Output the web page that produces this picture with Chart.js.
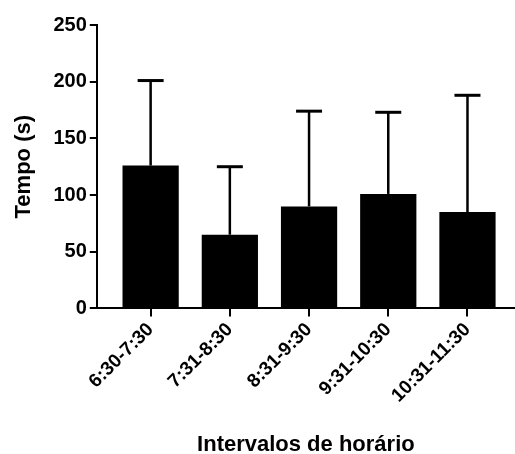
<!DOCTYPE html>
<html>
<head>
<meta charset="utf-8">
<script src="https://cdn.jsdelivr.net/npm/chart.js@4"></script>
<style>
  html, body { margin: 0; padding: 0; background: #fff; }
  #wrap { width: 515px; height: 454px; }
</style>
</head>
<body>
<div id="wrap"><canvas id="myChart"></canvas></div>
<script>
const intervals = ['6:30-7:30', '7:31-8:30', '8:31-9:30', '9:31-10:30', '10:31-11:30'];
const means = [126, 65, 90, 101, 85];
const upperErr = [201, 125, 174, 173, 188];
const yTicks = [0, 50, 100, 150, 200, 250];

const ctx = document.getElementById('myChart').getContext('2d');

// upper-only error bars, Prism style
const errorBars = {
  id: 'errorBars',
  afterDatasetsDraw(chart) {
    const x = chart.scales.x, y = chart.scales.y;
    const c = chart.ctx;
    c.save();
    c.strokeStyle = '#000';
    means.forEach((m, i) => {
      const px = x.getPixelForValue(i);
      const top = y.getPixelForValue(upperErr[i]);
      c.lineWidth = 2.5;
      c.beginPath();
      c.moveTo(px, y.getPixelForValue(m));
      c.lineTo(px, top);
      c.stroke();
      c.lineWidth = 3;
      c.beginPath();
      c.moveTo(px - 13, top);
      c.lineTo(px + 13, top);
      c.stroke();
    });
    c.restore();
  }
};

const font = 'Liberation Sans, Arial, sans-serif';

const config = {
  type: 'bar',
  data: {
    datasets: [{
      data: means.map((v, i) => ({ x: i, y: v })),
      backgroundColor: '#000',
      borderWidth: 0,
      categoryPercentage: 1,
      barPercentage: 0.71
    }]
  },
  options: {
    responsive: true,
    maintainAspectRatio: false,
    animation: false,
    layout: { padding: { left: 7, right: 0, top: 25, bottom: 0 } },
    plugins: { legend: { display: false }, tooltip: { enabled: false } },
    scales: {
      x: {
        type: 'linear',
        min: -0.68,
        max: 4.6,
        offset: false,
        afterBuildTicks(scale) {
          scale.ticks = scale.ticks.filter(t => Number.isInteger(t.value) && t.value >= 0 && t.value <= 4);
        },
        ticks: {
          stepSize: 1,
          includeBounds: false,
          autoSkip: false,
          maxRotation: 45,
          minRotation: 45,
          color: '#000',
          padding: 2,
          font: { family: font, size: 19, weight: 'bold' },
          callback: v => intervals[v]
        },
        grid: { offset: false, drawOnChartArea: false, drawTicks: true, tickLength: 8, color: '#000', lineWidth: 2 },
        border: { color: '#000', width: 2 },
        title: {
          display: true,
          text: 'Intervalos de horário',
          color: '#000',
          font: { family: font, size: 22, weight: 'bold', lineHeight: 1.0 },
          padding: { top: 25, bottom: -2 }
        }
      },
      y: {
        min: 0,
        max: 250,
        afterBuildTicks(scale) {
          scale.ticks = yTicks.map(v => ({ value: v }));
        },
        ticks: {
          color: '#000',
          padding: 3,
          font: { family: font, size: 20, weight: 'bold' }
        },
        grid: { drawOnChartArea: false, drawTicks: true, tickLength: 7, color: '#000', lineWidth: 2 },
        border: { color: '#000', width: 2 },
        title: {
          display: true,
          text: 'Tempo (s)',
          color: '#000',
          font: { family: font, size: 22, weight: 'bold' },
          padding: { bottom: 13 }
        }
      }
    }
  },
  plugins: [errorBars]
};

const myChart = new Chart(ctx, config);
</script>
</body>
</html>
